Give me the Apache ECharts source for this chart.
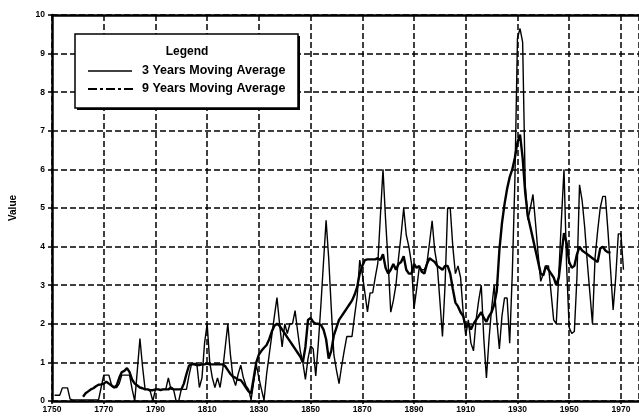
<!DOCTYPE html>
<html>
<head>
<meta charset="utf-8">
<script src="https://cdn.jsdelivr.net/npm/echarts@6/dist/echarts.min.js"></script>
<style>
html,body{margin:0;padding:0;background:#fff;}
#c{width:639px;height:417px;}
</style>
</head>
<body>
<div id="c"></div>
<script>
// 3 Years Moving Average (years and values)
var years3 = [1751,1752,1753,1754,1755,1756,1757,1758,1760,1762,1764,1766,1768,1769,1770,1771,1772,1773,1774,1775,1776,1777,1778,1779,1780,1781,1782,1783,1784,1785,1786,1787,1788,1789,1790,1791,1792,1793,1794,1795,1796,1797,1798,1799,1800,1801,1802,1803,1804,1805,1806,1807,1808,1809,1810,1811,1812,1813,1814,1815,1816,1817,1818,1819,1820,1821,1822,1823,1824,1825,1826,1827,1828,1829,1830,1831,1832,1833,1834,1835,1836,1837,1838,1839,1840,1841,1842,1843,1844,1845,1846,1847,1848,1849,1850,1851,1852,1853,1854,1855,1856,1857,1858,1859,1860,1861,1862,1863,1864,1865,1866,1867,1868,1869,1870,1871,1872,1873,1874,1875,1876,1877,1878,1879,1880,1881,1882,1883,1884,1885,1886,1887,1888,1889,1890,1891,1892,1893,1894,1895,1896,1897,1898,1899,1900,1901,1902,1903,1904,1905,1906,1907,1908,1909,1910,1911,1912,1913,1914,1915,1916,1917,1918,1919,1920,1921,1922,1923,1924,1925,1926,1927,1928,1929,1930,1931,1932,1933,1934,1935,1936,1937,1938,1939,1940,1941,1942,1943,1944,1945,1946,1947,1948,1949,1950,1951,1952,1953,1954,1955,1956,1957,1958,1959,1960,1961,1962,1963,1964,1965,1966,1967,1968,1969,1970,1971];
var values3 = [0.15,0.15,0.15,0.34,0.34,0.34,0.05,0.03,0.03,0.03,0.03,0.03,0.03,0.35,0.67,0.67,0.67,0.42,0.35,0.35,0.45,0.67,0.67,0.67,0.67,0.3,0.0,0.8,1.62,0.9,0.3,0.3,0.25,0.0,0.3,0.3,0.3,0.3,0.3,0.6,0.3,0.3,0.0,0.0,0.3,0.3,0.3,0.67,0.97,0.97,0.97,0.35,0.6,1.5,2.0,1.0,0.6,0.35,0.6,0.35,0.8,1.4,2.0,1.2,0.6,0.4,0.7,0.93,0.6,0.4,0.3,0.03,0.5,0.95,0.6,0.3,0.02,0.7,1.2,1.7,2.2,2.68,2.0,1.4,2.0,1.75,2.0,2.0,2.34,1.8,1.3,1.0,0.56,1.1,1.43,1.35,0.65,1.5,2.5,3.6,4.68,3.7,2.4,1.2,0.8,0.45,0.9,1.3,1.67,1.67,1.67,2.2,2.7,3.65,3.3,2.8,2.31,2.8,2.8,3.2,3.57,4.8,6.0,4.7,3.57,2.3,2.6,3.0,3.7,4.3,5.0,4.3,4.0,3.57,2.4,2.9,3.45,3.4,3.4,3.57,4.1,4.67,3.9,3.5,2.6,1.67,3.0,5.0,5.0,4.0,3.3,3.5,3.2,2.3,1.7,2.1,1.5,1.3,2.1,2.6,3.0,1.6,0.6,1.6,2.4,3.0,2.1,1.35,2.2,2.67,2.67,1.5,3.3,5.7,9.4,9.65,9.3,5.6,4.7,5.0,5.35,4.6,3.8,3.1,3.3,3.5,3.5,2.8,2.1,2.0,3.3,4.7,6.0,3.5,1.9,1.75,1.8,3.2,5.6,5.2,4.5,3.6,2.8,2.0,3.7,4.4,5.0,5.3,5.3,4.4,3.4,2.36,3.2,4.33,4.33,3.4];

// 9 Years Moving Average
var years9 = [1762,1763,1764,1765,1766,1767,1768,1769,1770,1771,1772,1773,1774,1775,1776,1777,1778,1779,1780,1781,1782,1783,1784,1785,1786,1787,1788,1789,1790,1791,1792,1793,1794,1795,1796,1797,1798,1799,1800,1801,1802,1803,1804,1805,1806,1807,1808,1809,1810,1811,1812,1813,1814,1815,1816,1817,1818,1819,1820,1821,1822,1823,1824,1825,1826,1827,1828,1829,1830,1831,1832,1833,1834,1835,1836,1837,1838,1839,1840,1841,1842,1843,1844,1845,1846,1847,1848,1849,1850,1851,1852,1853,1854,1855,1856,1857,1858,1859,1860,1861,1862,1863,1864,1865,1866,1867,1868,1869,1870,1871,1872,1873,1874,1875,1876,1877,1878,1879,1880,1881,1882,1883,1884,1885,1886,1887,1888,1889,1890,1891,1892,1893,1894,1895,1896,1897,1898,1899,1900,1901,1902,1903,1904,1905,1906,1907,1908,1909,1910,1911,1912,1913,1914,1915,1916,1917,1918,1919,1920,1921,1922,1923,1924,1925,1926,1927,1928,1929,1930,1931,1932,1933,1934,1935,1936,1937,1938,1939,1940,1941,1942,1943,1944,1945,1946,1947,1948,1949,1950,1951,1952,1953,1954,1955,1956,1957,1958,1959,1960,1961,1962,1963,1964,1965,1966];
var values9 = [0.11,0.2,0.25,0.3,0.33,0.38,0.42,0.43,0.45,0.5,0.45,0.4,0.35,0.4,0.6,0.75,0.78,0.85,0.75,0.55,0.45,0.4,0.35,0.33,0.3,0.3,0.28,0.28,0.3,0.3,0.28,0.3,0.3,0.3,0.35,0.3,0.3,0.3,0.3,0.45,0.7,0.92,0.95,0.95,0.93,0.93,0.95,0.95,0.97,0.95,0.95,0.95,0.95,0.95,0.95,0.9,0.8,0.7,0.63,0.6,0.55,0.54,0.45,0.35,0.25,0.2,0.6,1.0,1.2,1.3,1.38,1.45,1.6,1.8,1.95,2.0,1.95,1.85,1.75,1.65,1.55,1.45,1.35,1.25,1.15,1.0,1.4,2.1,2.15,2.05,2.0,2.0,1.97,1.85,1.6,1.1,1.3,1.7,1.9,2.1,2.2,2.3,2.4,2.5,2.6,2.75,2.95,3.3,3.5,3.65,3.67,3.67,3.67,3.67,3.7,3.65,3.8,3.45,3.3,3.4,3.55,3.4,3.55,3.6,3.75,3.4,3.3,3.3,3.55,3.45,3.5,3.35,3.3,3.55,3.7,3.65,3.6,3.5,3.45,3.4,3.5,3.5,3.3,2.9,2.55,2.45,2.3,2.2,1.9,2.0,1.85,2.0,2.1,2.2,2.3,2.15,2.05,2.2,2.3,2.5,2.85,3.9,4.6,5.1,5.5,5.8,6.0,6.3,6.7,6.9,6.3,5.4,4.8,4.5,4.2,3.9,3.6,3.3,3.25,3.5,3.4,3.3,3.2,3.0,3.2,3.8,4.35,4.1,3.6,3.45,3.5,3.8,4.0,3.9,3.85,3.8,3.75,3.7,3.65,3.6,3.95,4.0,3.9,3.85,3.85];

var yTicks = [0,1,2,3,4,5,6,7,8,9,10];
var xStart = 1750, xEnd = 1977, xStep = 20;
var legendTitle = 'Legend';
var legendNames = ['3 Years Moving Average', '9 Years Moving Average'];

function pairs(xs, ys){ return xs.map(function(x,i){ return [x, ys[i]]; }); }

var chart = echarts.init(document.getElementById('c'), null, {renderer:'canvas'});
var lblFont = {fontFamily:'Liberation Sans', fontWeight:'bold', fontSize:8.5, color:'#000'};
var grid = {type:[6,3], color:'#000', width:1.5};
var legFont = 'bold 12.5px "Liberation Sans"';

chart.setOption({
  animation:false,
  backgroundColor:'#fff',
  grid:{left:48, top:15, right:0, bottom:16, containLabel:false},
  xAxis:[{
    type:'value', min:xStart, max:xEnd, interval:xStep,
    axisLine:{show:true, onZero:false, lineStyle:{color:'#000', width:2.5}},
    axisTick:{show:true, length:3, lineStyle:{color:'#000', width:1.5}},
    axisLabel:Object.assign({margin:4, showMaxLabel:false,
      formatter:function(v){ return ((v - xStart) % xStep === 0) ? String(v) : ''; }}, lblFont),
    splitLine:{show:true, lineStyle:grid}
  },{
    type:'value', position:'top', min:xStart, max:xEnd,
    axisLine:{show:true, onZero:false, lineStyle:{color:'#000', width:2.5}},
    axisTick:{show:false}, axisLabel:{show:false}, splitLine:{show:false}
  }],
  yAxis:{
    type:'value', min:yTicks[0], max:yTicks[yTicks.length-1], interval:1,
    name:'Value', nameLocation:'middle', nameGap:34, nameRotate:90,
    nameTextStyle:{fontFamily:'Liberation Sans', fontWeight:'bold', fontSize:10, color:'#000'},
    axisLine:{show:true, onZero:false, lineStyle:{color:'#000', width:2.5}},
    axisTick:{show:true, length:4, lineStyle:{color:'#000', width:1.5}},
    axisLabel:Object.assign({margin:7}, lblFont),
    splitLine:{show:true, lineStyle:grid}
  },
  graphic:{elements:[
    {type:'rect', z:100, shape:{x:77, y:36, width:223, height:74}, style:{fill:'#000'}},
    {type:'rect', z:101, shape:{x:75, y:34, width:223, height:74}, style:{fill:'#fff', stroke:'#000', lineWidth:1.5}},
    {type:'text', x:187, y:52, z:102,
      style:{text:legendTitle, textAlign:'center', textVerticalAlign:'middle', font:'bold 12px "Liberation Sans"', fill:'#000'}},
    {type:'line', z:102, shape:{x1:88, y1:71, x2:132, y2:71}, style:{stroke:'#000', lineWidth:1.4}},
    {type:'text', x:142, y:71, z:102,
      style:{text:legendNames[0], textAlign:'left', textVerticalAlign:'middle', font:legFont, fill:'#000'}},
    {type:'line', z:102, shape:{x1:88, y1:89, x2:135, y2:89}, style:{stroke:'#000', lineWidth:2.2, lineDash:[9,3,3,3]}},
    {type:'text', x:142, y:89, z:102,
      style:{text:legendNames[1], textAlign:'left', textVerticalAlign:'middle', font:legFont, fill:'#000'}}
  ]},
  series:[{
    name:legendNames[0], type:'line', symbol:'none',
    data:pairs(years3, values3),
    lineStyle:{color:'#000', width:1.4}, itemStyle:{color:'#000'}, z:3
  },{
    name:legendNames[1], type:'line', symbol:'none',
    data:pairs(years9, values9),
    lineStyle:{color:'#000', width:2.4}, itemStyle:{color:'#000'}, z:2
  }]
});
</script>
</body>
</html>
